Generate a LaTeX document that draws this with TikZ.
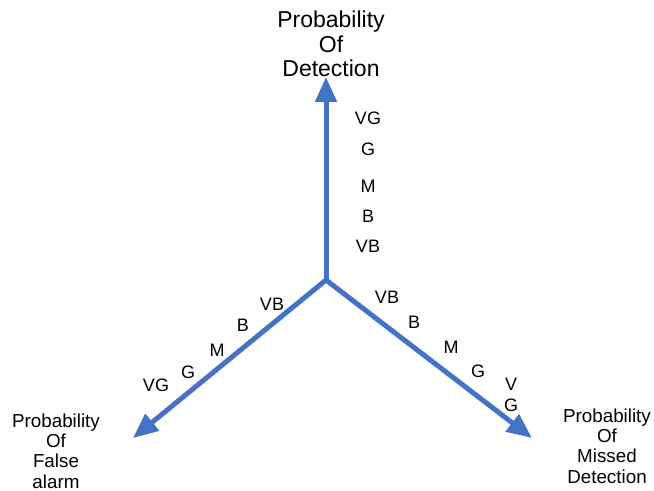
\documentclass[tikz,border=0pt]{standalone}
\usepackage{fontspec}
\setmainfont{Liberation Sans}
\usepackage{tikz}
\usetikzlibrary{arrows.meta}

\definecolor{axisblue}{HTML}{4472C4}

\begin{document}
\begin{tikzpicture}[x=0.5pt,y=-0.5pt]
\useasboundingbox (0,0) rectangle (654,491);
\coordinate (o) at (326,280);
\coordinate (tipD) at (326,77);
\coordinate (tipF) at (133,438);
\coordinate (tipM) at (532,438);
\begin{scope}[every node/.style={inner sep=0pt,align=center}]
    \node (pd) [font=\fontsize{11.5}{12.3}\selectfont] at (331,44) {Probability\\Of\\Detection};
    \node (pf) [font=\fontsize{9.4}{10.2}\selectfont] at (56,451) {Probability\\Of\\False\\alarm};
    \node (pm) [font=\fontsize{9.4}{10.2}\selectfont] at (607,446) {Probability\\Of\\Missed\\Detection};
\end{scope}
\begin{scope}[every node/.style={inner sep=0pt,align=center,font=\fontsize{9}{10.5}\selectfont}]
    % detection axis
    \node (dvg) at (368,118) {VG};
    \node (dg) at (368,149) {G};
    \node (dm) at (368,186) {M};
    \node (db) at (368,216) {B};
    \node (dvb) at (368,246) {VB};
    % false alarm axis
    \node (fvb) at (272,304) {VB};
    \node (fb) at (243,325) {B};
    \node (fm) at (217,350) {M};
    \node (fg) at (188,372) {G};
    \node (fvg) at (156,385) {VG};
    % missed detection axis
    \node (mvb) at (387,297) {VB};
    \node (mb) at (414,322) {B};
    \node (mm) at (451,347) {M};
    \node (mg) at (478,371) {G};
    \node (mvg) at (511,395) {V\\G};
\end{scope}
\begin{scope}[>={Triangle[length=12.5pt,width=10.5pt]},
              axis_edge/.style={draw=axisblue,line width=2.5pt,color=axisblue}]
    \path [->] (o) edge [axis_edge] (tipD);
    \path [->] (o) edge [axis_edge] (tipF);
    \path [->] (o) edge [axis_edge] (tipM);
\end{scope}
\end{tikzpicture}
\end{document}
